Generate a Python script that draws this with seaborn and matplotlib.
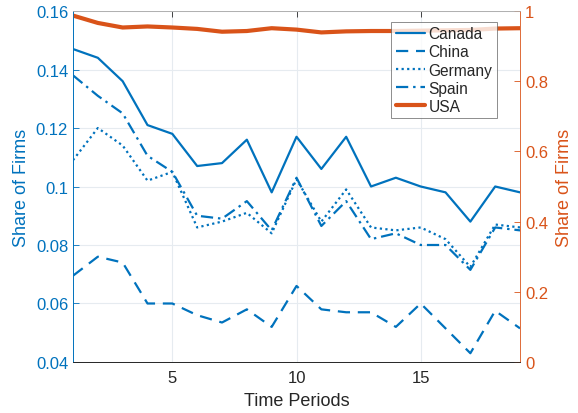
import numpy as np
import pandas as pd
import matplotlib
matplotlib.use("Agg")
import matplotlib.pyplot as plt
import seaborn as sns

periods = list(range(1, 20))
canada = [0.147, 0.144, 0.136, 0.121, 0.118, 0.107, 0.108, 0.116, 0.098, 0.117,
          0.106, 0.117, 0.100, 0.103, 0.100, 0.098, 0.088, 0.100, 0.098]
china = [0.0695, 0.076, 0.074, 0.060, 0.060, 0.056, 0.0535, 0.058, 0.052, 0.066,
         0.058, 0.057, 0.057, 0.052, 0.060, 0.0515, 0.043, 0.0575, 0.0515]
germany = [0.109, 0.120, 0.114, 0.102, 0.105, 0.086, 0.088, 0.091, 0.084, 0.1025,
           0.088, 0.099, 0.086, 0.085, 0.086, 0.082, 0.0725, 0.087, 0.086]
spain = [0.138, 0.131, 0.125, 0.1105, 0.105, 0.090, 0.089, 0.095, 0.085, 0.103,
         0.0865, 0.095, 0.082, 0.084, 0.080, 0.080, 0.0715, 0.086, 0.085]
usa = [0.987, 0.966, 0.953, 0.956, 0.953, 0.949, 0.941, 0.943, 0.951, 0.947,
       0.939, 0.942, 0.943, 0.943, 0.944, 0.945, 0.946, 0.950, 0.951]

left_ticks = [0.04, 0.06, 0.08, 0.1, 0.12, 0.14, 0.16]
left_labels = ["0.04", "0.06", "0.08", "0.1", "0.12", "0.14", "0.16"]
right_ticks = [0, 0.2, 0.4, 0.6, 0.8, 1]
right_labels = ["0", "0.2", "0.4", "0.6", "0.8", "1"]
x_ticks = [5, 10, 15]

BLUE = "#0072BD"
ORANGE = "#D95319"
DARK = "#262626"

sns.set_style("white")
plt.rcParams["font.family"] = ["Liberation Sans", "DejaVu Sans"]

fig = plt.figure(figsize=(5.78, 4.14), dpi=100)
ax = fig.add_axes([0.1263, 0.1232, 0.7734, 0.8478])
ax2 = ax.twinx()

lw = 1.6
styles = [
    ("Canada", canada, "-"),
    ("China", china, (0, (5.5, 3.5))),
    ("Germany", germany, (0, (1, 1.5))),
    ("Spain", spain, (0, (5.5, 2.2, 1.1, 2.2))),
]
handles = []
for name, vals, ls in styles:
    sns.lineplot(x=periods, y=vals, ax=ax, color=BLUE, linestyle=ls,
                 linewidth=lw, label=name, legend=False)
    handles.append(ax.lines[-1])

sns.lineplot(x=periods, y=usa, ax=ax2, color=ORANGE, linewidth=3.0,
             label="USA", legend=False)
handles.append(ax2.lines[-1])

ax.set_xlim(1, 19)
ax.set_ylim(0.04, 0.16)
ax2.set_ylim(0, 1)

ax.set_xticks(x_ticks)
ax.set_xticklabels([str(t) for t in x_ticks])
ax.set_yticks(left_ticks)
ax.set_yticklabels(left_labels)
ax2.set_yticks(right_ticks)
ax2.set_yticklabels(right_labels)

ax.grid(True, color="#e6ebf0", linewidth=0.8)
ax.set_axisbelow(True)
ax2.grid(False)

ax.tick_params(axis="x", direction="in", colors=DARK, labelsize=12, length=4,
               width=0.6, top=True, pad=6)
ax.tick_params(axis="y", direction="in", colors=BLUE, labelsize=12, length=4,
               width=0.6)
ax2.tick_params(axis="y", direction="in", colors=ORANGE, labelsize=12,
                length=4, width=0.6)

for a in (ax, ax2):
    a.spines["top"].set_color("#b0b0b0")
    a.spines["bottom"].set_color(DARK)
    a.spines["left"].set_color(BLUE)
    a.spines["right"].set_color(ORANGE)
    for s in a.spines.values():
        s.set_linewidth(0.6)
ax.spines["right"].set_visible(False)

ax.set_xlabel("Time Periods", fontsize=13, color=DARK, labelpad=5)
ax.set_ylabel("Share of Firms", fontsize=13, color=BLUE, labelpad=4)
ax2.set_ylabel("Share of Firms", fontsize=13, color=ORANGE, labelpad=6)

leg = ax2.legend(handles, ["Canada", "China", "Germany", "Spain", "USA"],
                 loc="upper right", bbox_to_anchor=(0.9485, 0.9695),
                 fontsize=11.2, frameon=True, fancybox=False,
                 handlelength=1.85, handletextpad=0.25, labelspacing=0.2,
                 borderpad=0.3, borderaxespad=0)
leg.get_frame().set_edgecolor("#5a5a5a")
leg.get_frame().set_linewidth(0.6)
for t in leg.get_texts():
    t.set_color(DARK)

fig.savefig("out.png", dpi=100)
